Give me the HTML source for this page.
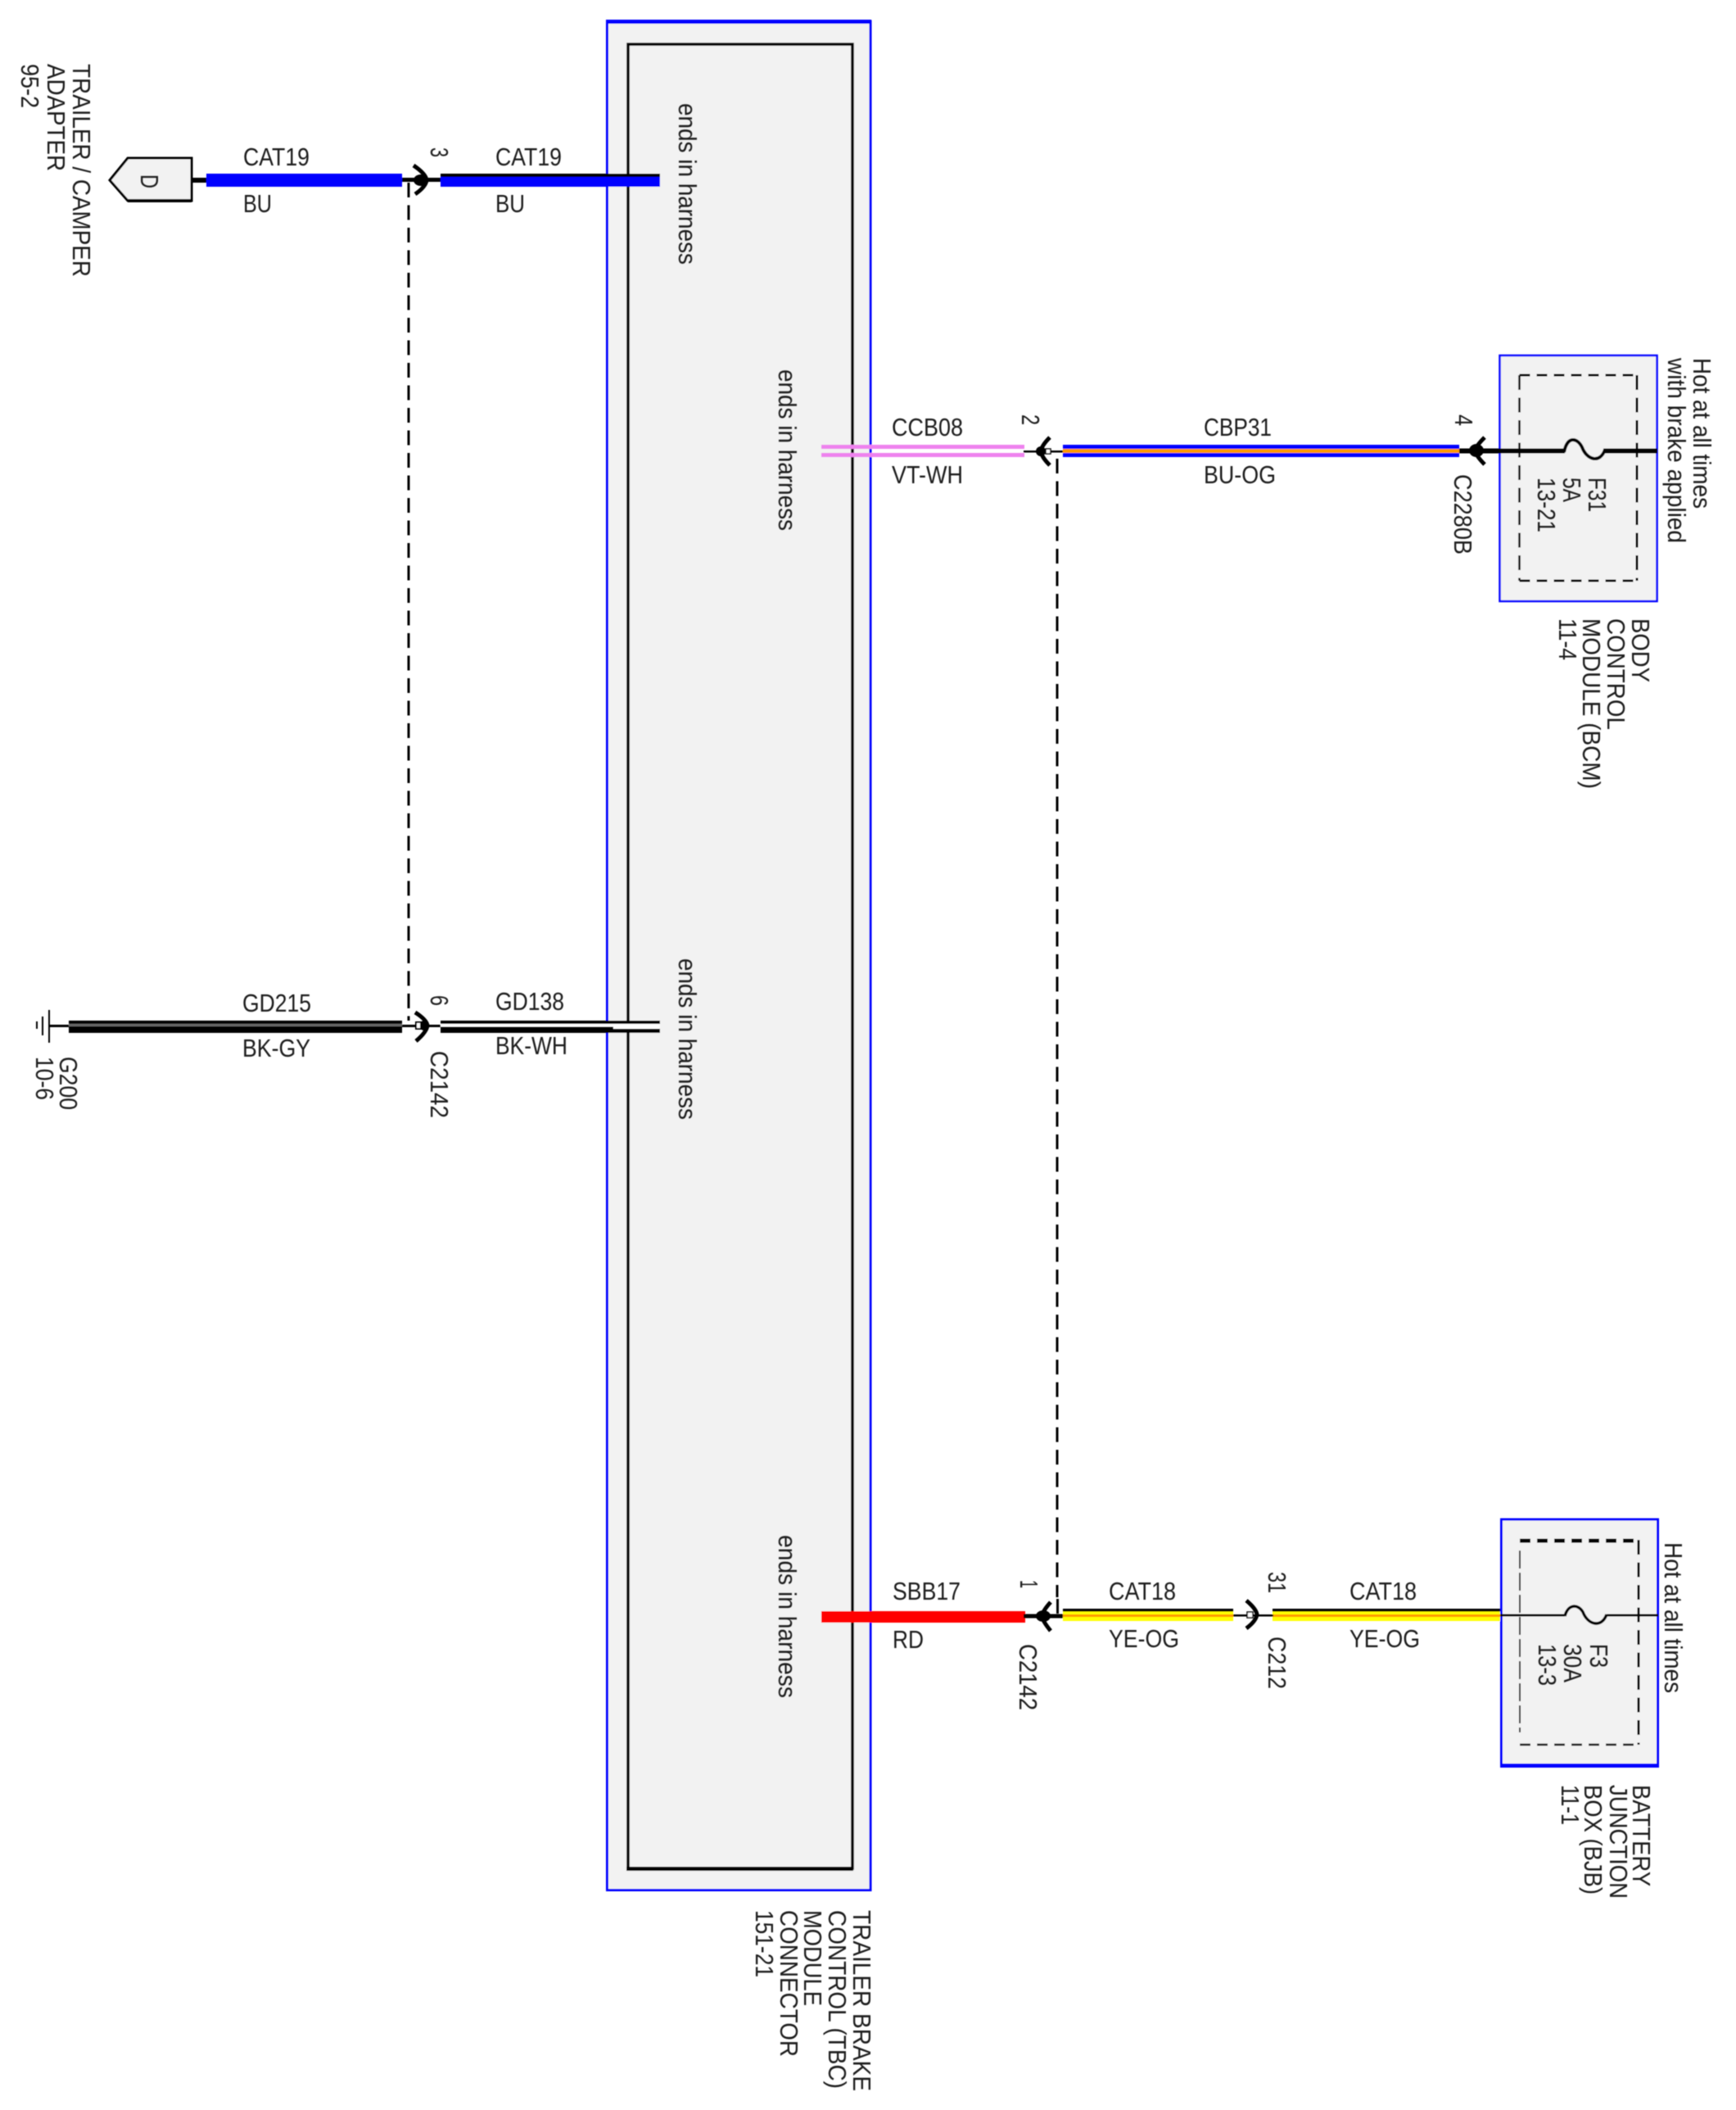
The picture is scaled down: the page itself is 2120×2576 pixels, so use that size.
<!DOCTYPE html>
<html>
<head>
<meta charset="utf-8">
<style>
html,body{margin:0;padding:0;background:#fff;width:2120px;height:2576px;overflow:hidden}
svg{display:block}
text{font-family:"Liberation Sans",Arial,sans-serif;fill:#1a1a1a}
.h{font-size:31px}
.r{font-size:31px}
</style>
</head>
<body>
<svg width="2120" height="2576" viewBox="0 0 2120 2576" xmlns="http://www.w3.org/2000/svg">
<defs>
<filter id="b" x="-5%" y="-5%" width="110%" height="110%"><feGaussianBlur stdDeviation="0.6"/></filter>
<filter id="s" x="-5%" y="-5%" width="110%" height="110%"><feGaussianBlur stdDeviation="0.4"/></filter>
</defs>
<rect width="2120" height="2576" fill="#fff"/>

<g filter="url(#s)">
<!-- TBC module -->
<rect x="741.5" y="26" width="321.5" height="2281.5" fill="#f2f2f2" stroke="#0000ff" stroke-width="3"/>
<rect x="740" y="24" width="324" height="5" fill="#0000ff"/>
<rect x="767" y="54" width="274" height="2227" fill="#f2f2f2" stroke="#000" stroke-width="3.5"/>
<rect x="765" y="2279" width="277" height="5" fill="#000"/>

<!-- dashed vertical links -->
<line x1="499" y1="223" x2="499" y2="1246" stroke="#000" stroke-width="3" stroke-dasharray="18 9.5"/>
<line x1="1291" y1="560" x2="1291" y2="1950" stroke="#000" stroke-width="3" stroke-dasharray="18 9.5"/>

<!-- D connector -->
<polygon points="134,220 156,193 234,193 234,245 156,245" fill="#f2f2f2" stroke="#000" stroke-width="3"/>
<rect x="156" y="243" width="78" height="4" fill="#000"/>
<rect x="234" y="217" width="19" height="6" fill="#000"/>

<!-- wires row 1 -->
<rect x="252" y="212" width="239" height="16" fill="#0000ff"/>
<rect x="491" y="217" width="48" height="5" fill="#000"/>
<rect x="538" y="212" width="268" height="16" fill="#0000ff"/>
<rect x="538" y="212" width="268" height="4" fill="#000"/>
<path d="M505,202 Q520,212 521,220 Q520,228 507,237" fill="none" stroke="#000" stroke-width="5"/>
<ellipse cx="514" cy="220" rx="9" ry="7" fill="#000"/>

<!-- ground -->
<rect x="60" y="1251" width="24" height="3" fill="#000"/>
<rect x="59" y="1233" width="2" height="40" fill="#000"/>
<rect x="51" y="1241" width="2" height="23" fill="#000"/>
<rect x="44" y="1247" width="2" height="9" fill="#000"/>

<!-- wires row 2 -->
<rect x="84" y="1246" width="407" height="15" fill="#000"/>
<rect x="84" y="1250" width="407" height="3" fill="#666"/>
<rect x="491" y="1251" width="48" height="3" fill="#000"/>
<rect x="538" y="1246" width="268" height="15" fill="#000"/>
<rect x="538" y="1250" width="211" height="3.5" fill="#fff"/>
<rect x="749" y="1250" width="57" height="6" fill="#fff"/>
<path d="M507,1236 Q521,1245 522,1252 Q521,1260 508,1271" fill="none" stroke="#000" stroke-width="5"/>
<ellipse cx="518" cy="1252" rx="6" ry="6" fill="#000"/>
<rect x="508" y="1248" width="6" height="8" fill="#fff" stroke="#000" stroke-width="2"/>

<!-- wires row 3: pink + BU-OG -->
<rect x="1003" y="543" width="248" height="5" fill="#ee82ee"/>
<rect x="1003" y="553" width="248" height="5" fill="#ee82ee"/>
<rect x="1250" y="550" width="50" height="2.5" fill="#000"/>
<path d="M1282,534 Q1272,544 1271,551 Q1272,558 1282,568" fill="none" stroke="#000" stroke-width="5"/>
<ellipse cx="1271" cy="551" rx="6" ry="6" fill="#000"/>
<rect x="1277" y="548" width="6" height="6" fill="#fff" stroke="#000" stroke-width="1.5"/>
<rect x="1298" y="543" width="484" height="15" fill="#0000ff"/>
<rect x="1298" y="548" width="484" height="5" fill="#ff9900"/>

<!-- BCM box -->
<rect x="1831.5" y="434" width="192" height="300" fill="#f2f2f2" stroke="#0000ff" stroke-width="2.5"/>
<line x1="1855.5" y1="458" x2="1999" y2="458" stroke="#000" stroke-width="3" stroke-dasharray="13 8"/>
<line x1="1855.5" y1="709" x2="1999" y2="709" stroke="#000" stroke-width="3" stroke-dasharray="13 8"/>
<line x1="1855.5" y1="458" x2="1855.5" y2="709" stroke="#000" stroke-width="2.5" stroke-dasharray="18 9.5"/>
<line x1="1999" y1="458" x2="1999" y2="709" stroke="#000" stroke-width="3" stroke-dasharray="18 9.5"/>
<rect x="1782" y="547.5" width="129" height="6" fill="#000"/>
<rect x="1958" y="547.5" width="66" height="6" fill="#000"/>
<path d="M1910,552 C1914,532 1926,534 1932,546 C1938,562 1954,566 1960,549" fill="none" stroke="#000" stroke-width="4"/>
<path d="M1813,534 Q1803,544 1801,550 Q1803,557 1813,567" fill="none" stroke="#000" stroke-width="5"/>
<ellipse cx="1803" cy="550" rx="9" ry="8" fill="#000"/>

<!-- bottom row -->
<rect x="1003" y="1967" width="249" height="14" fill="#ff0000"/>
<rect x="1250" y="1970.5" width="50" height="5" fill="#000"/>
<path d="M1283,1956 Q1274,1966 1272,1973 Q1274,1980 1283,1991" fill="none" stroke="#000" stroke-width="5"/>
<ellipse cx="1274" cy="1973" rx="9" ry="7" fill="#000"/>
<rect x="1290" y="1952" width="3" height="18" fill="#000"/>
<rect x="1298" y="1964" width="208" height="15" fill="#ffff00"/>
<rect x="1298" y="1964" width="208" height="3.5" fill="#000"/>
<rect x="1298" y="1971" width="208" height="3" fill="#ff9900"/>
<rect x="1554" y="1964" width="278" height="15" fill="#ffff00"/>
<rect x="1554" y="1964" width="278" height="3.5" fill="#000"/>
<rect x="1554" y="1971" width="278" height="3" fill="#ff9900"/>
<rect x="1506" y="1971" width="49" height="2.5" fill="#000"/>
<path d="M1522,1954 Q1534,1964 1535,1971 Q1534,1979 1522,1988" fill="none" stroke="#000" stroke-width="5"/>
<rect x="1523" y="1968" width="7" height="7" fill="#fff" stroke="#000" stroke-width="1.5"/>

<!-- BJB box -->
<rect x="1833.5" y="1855" width="191" height="301" fill="#f2f2f2" stroke="#0000ff" stroke-width="3"/>
<rect x="1832" y="2153" width="194" height="5" fill="#0000ff"/>
<line x1="1856" y1="1881" x2="2001" y2="1881" stroke="#000" stroke-width="5" stroke-dasharray="13 8"/>
<line x1="1856" y1="2130" x2="2001" y2="2130" stroke="#000" stroke-width="2.5" stroke-dasharray="13 8"/>
<line x1="1856" y1="1893" x2="1856" y2="2115" stroke="#000" stroke-width="1.8" stroke-dasharray="22 5"/>
<line x1="2001" y1="1880" x2="2001" y2="2130" stroke="#000" stroke-width="3" stroke-dasharray="18 9.5"/>
<rect x="1832" y="1970.5" width="79" height="3" fill="#000"/>
<rect x="1962" y="1970.5" width="63" height="3" fill="#000"/>
<path d="M1911,1973 C1915,1958 1927,1958 1933,1968 C1939,1984 1956,1988 1962,1971" fill="none" stroke="#000" stroke-width="3.5"/>
</g>

<g filter="url(#b)">
<!-- horizontal labels -->
<text class="h" x="297" y="202" textLength="81" lengthAdjust="spacingAndGlyphs">CAT19</text>
<text class="h" x="297" y="259" textLength="35" lengthAdjust="spacingAndGlyphs">BU</text>
<text class="h" x="605" y="202" textLength="81" lengthAdjust="spacingAndGlyphs">CAT19</text>
<text class="h" x="605" y="259" textLength="36" lengthAdjust="spacingAndGlyphs">BU</text>
<text class="h" x="296" y="1235" textLength="84" lengthAdjust="spacingAndGlyphs">GD215</text>
<text class="h" x="296" y="1290" textLength="83" lengthAdjust="spacingAndGlyphs">BK-GY</text>
<text class="h" x="605" y="1233" textLength="84" lengthAdjust="spacingAndGlyphs">GD138</text>
<text class="h" x="605" y="1287" textLength="88" lengthAdjust="spacingAndGlyphs">BK-WH</text>
<text class="h" x="1089" y="532" textLength="87" lengthAdjust="spacingAndGlyphs">CCB08</text>
<text class="h" x="1089" y="590" textLength="87" lengthAdjust="spacingAndGlyphs">VT-WH</text>
<text class="h" x="1470" y="532" textLength="83" lengthAdjust="spacingAndGlyphs">CBP31</text>
<text class="h" x="1470" y="590" textLength="88" lengthAdjust="spacingAndGlyphs">BU-OG</text>
<text class="h" x="1090" y="1953" textLength="83" lengthAdjust="spacingAndGlyphs">SBB17</text>
<text class="h" x="1090" y="2012" textLength="38" lengthAdjust="spacingAndGlyphs">RD</text>
<text class="h" x="1354" y="1953" textLength="82" lengthAdjust="spacingAndGlyphs">CAT18</text>
<text class="h" x="1354" y="2011" textLength="86" lengthAdjust="spacingAndGlyphs">YE-OG</text>
<text class="h" x="1648" y="1953" textLength="82" lengthAdjust="spacingAndGlyphs">CAT18</text>
<text class="h" x="1648" y="2011" textLength="86" lengthAdjust="spacingAndGlyphs">YE-OG</text>

<!-- rotated labels -->
<text class="r" transform="translate(89 78) rotate(90)" textLength="260" lengthAdjust="spacingAndGlyphs">TRAILER / CAMPER</text>
<text class="r" transform="translate(58 78) rotate(90)" textLength="131" lengthAdjust="spacingAndGlyphs">ADAPTER</text>
<text class="r" transform="translate(26 78) rotate(90)" textLength="54" lengthAdjust="spacingAndGlyphs">95-2</text>
<text class="r" transform="translate(172 213) rotate(90)" textLength="17" lengthAdjust="spacingAndGlyphs">D</text>
<text class="r" transform="translate(526 180) rotate(90)" textLength="12" lengthAdjust="spacingAndGlyphs">3</text>
<text class="r" transform="translate(526 1215) rotate(90)" textLength="13" lengthAdjust="spacingAndGlyphs">6</text>
<text class="r" transform="translate(526 1283) rotate(90)" textLength="82" lengthAdjust="spacingAndGlyphs">C2142</text>
<text class="r" transform="translate(73 1290) rotate(90)" textLength="65" lengthAdjust="spacingAndGlyphs">G200</text>
<text class="r" transform="translate(44 1290) rotate(90)" textLength="53" lengthAdjust="spacingAndGlyphs">10-6</text>
<text class="r" transform="translate(829 126) rotate(90)" textLength="197" lengthAdjust="spacingAndGlyphs">ends in harness</text>
<text class="r" transform="translate(829 1170) rotate(90)" textLength="197" lengthAdjust="spacingAndGlyphs">ends in harness</text>
<text class="r" transform="translate(951 451) rotate(90)" textLength="197" lengthAdjust="spacingAndGlyphs">ends in harness</text>
<text class="r" transform="translate(951 1874) rotate(90)" textLength="199" lengthAdjust="spacingAndGlyphs">ends in harness</text>
<text class="r" transform="translate(1248 506) rotate(90)" textLength="13" lengthAdjust="spacingAndGlyphs">2</text>
<text class="r" transform="translate(1777 506) rotate(90)" textLength="14" lengthAdjust="spacingAndGlyphs">4</text>
<text class="r" transform="translate(1776 579) rotate(90)" textLength="98" lengthAdjust="spacingAndGlyphs">C2280B</text>
<text class="r" transform="translate(1940 583) rotate(90)" textLength="42" lengthAdjust="spacingAndGlyphs">F31</text>
<text class="r" transform="translate(1909 583) rotate(90)" textLength="30" lengthAdjust="spacingAndGlyphs">5A</text>
<text class="r" transform="translate(1878 583) rotate(90)" textLength="67" lengthAdjust="spacingAndGlyphs">13-21</text>
<text class="r" transform="translate(2068 437) rotate(90)" textLength="184" lengthAdjust="spacingAndGlyphs">Hot at all times</text>
<text class="r" transform="translate(2037 437) rotate(90)" textLength="226" lengthAdjust="spacingAndGlyphs">with brake applied</text>
<text class="r" transform="translate(1993 755) rotate(90)" textLength="78" lengthAdjust="spacingAndGlyphs">BODY</text>
<text class="r" transform="translate(1963 755) rotate(90)" textLength="136" lengthAdjust="spacingAndGlyphs">CONTROL</text>
<text class="r" transform="translate(1933 755) rotate(90)" textLength="208" lengthAdjust="spacingAndGlyphs">MODULE (BCM)</text>
<text class="r" transform="translate(1904 755) rotate(90)" textLength="51" lengthAdjust="spacingAndGlyphs">11-4</text>
<text class="r" transform="translate(1246 1929) rotate(90)" textLength="10" lengthAdjust="spacingAndGlyphs">1</text>
<text class="r" transform="translate(1245 2007) rotate(90)" textLength="81" lengthAdjust="spacingAndGlyphs">C2142</text>
<text class="r" transform="translate(1549 1919) rotate(90)" textLength="26" lengthAdjust="spacingAndGlyphs">31</text>
<text class="r" transform="translate(1549 1998) rotate(90)" textLength="64" lengthAdjust="spacingAndGlyphs">C212</text>
<text class="r" transform="translate(1942 2007) rotate(90)" textLength="29" lengthAdjust="spacingAndGlyphs">F3</text>
<text class="r" transform="translate(1910 2007) rotate(90)" textLength="47" lengthAdjust="spacingAndGlyphs">30A</text>
<text class="r" transform="translate(1879 2007) rotate(90)" textLength="51" lengthAdjust="spacingAndGlyphs">13-3</text>
<text class="r" transform="translate(2033 1883) rotate(90)" textLength="184" lengthAdjust="spacingAndGlyphs">Hot at all times</text>
<text class="r" transform="translate(1994 2179) rotate(90)" textLength="124" lengthAdjust="spacingAndGlyphs">BATTERY</text>
<text class="r" transform="translate(1966 2179) rotate(90)" textLength="139" lengthAdjust="spacingAndGlyphs">JUNCTION</text>
<text class="r" transform="translate(1935 2179) rotate(90)" textLength="134" lengthAdjust="spacingAndGlyphs">BOX (BJB)</text>
<text class="r" transform="translate(1907 2179) rotate(90)" textLength="49" lengthAdjust="spacingAndGlyphs">11-1</text>
<text class="r" transform="translate(1042 2332) rotate(90)" textLength="221" lengthAdjust="spacingAndGlyphs">TRAILER BRAKE</text>
<text class="r" transform="translate(1012 2332) rotate(90)" textLength="218" lengthAdjust="spacingAndGlyphs">CONTROL (TBC)</text>
<text class="r" transform="translate(982 2332) rotate(90)" textLength="117" lengthAdjust="spacingAndGlyphs">MODULE</text>
<text class="r" transform="translate(953 2332) rotate(90)" textLength="179" lengthAdjust="spacingAndGlyphs">CONNECTOR</text>
<text class="r" transform="translate(923 2332) rotate(90)" textLength="82" lengthAdjust="spacingAndGlyphs">151-21</text>
</g>
</svg>
</body>
</html>
